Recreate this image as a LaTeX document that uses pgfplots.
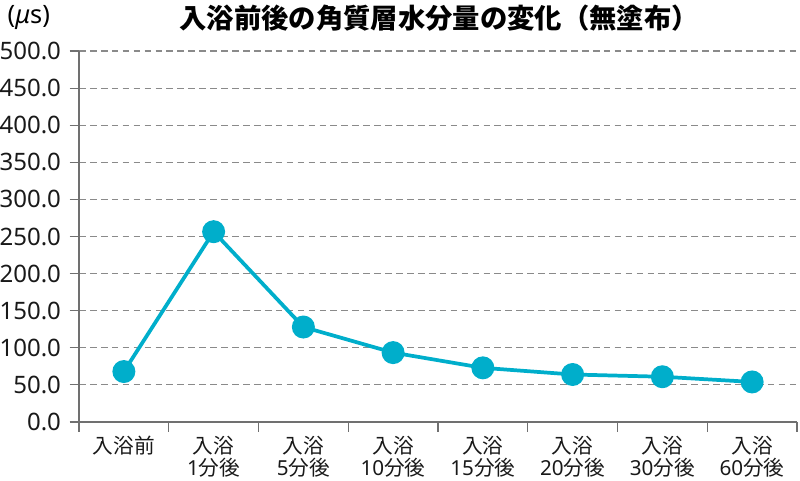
\documentclass[border=0pt]{standalone}
\usepackage{fontspec}
\setmainfont{Noto Sans CJK JP}
\newfontfamily\nf{Noto Sans}
\usepackage{pgfplots}
\pgfplotsset{compat=1.18}
\definecolor{lc}{HTML}{00AECB}
\definecolor{gc}{HTML}{8A8A8A}
\definecolor{ac}{HTML}{707070}
\begin{document}
\begin{tikzpicture}[x=1pt,y=1pt]
\begin{axis}[
  scale only axis,
  width=538.5pt, height=278.25pt,
  at={(0,0)}, anchor=south west,
  xmin=-0.5, xmax=7.5, ymin=0, ymax=500,
  axis lines=left,
  axis line style={-, ac, line width=0.8pt},
  ytick={0,50,...,500},
  yticklabel={\nf\pgfmathprintnumber[fixed,fixed zerofill,precision=1,assume math mode=true]{\tick}},
  tick label style={font=\fontsize{15.5pt}{16.5pt}\selectfont, text=black!90},
  y tick label style={font=\nf\fontsize{18pt}{19pt}\selectfont, xshift=-3pt},
  tick align=outside,
  major tick length=7pt,
  minor tick length=7.5pt,
  tick style={ac, line width=0.8pt},
  xtick={0,...,7},
  major x tick style={draw=none},
  minor xtick={-0.5,0.5,...,7.5},
  xticklabels={入浴前,入浴\\{\nf 1}分後,入浴\\{\nf 5}分後,入浴\\{\nf 10}分後,入浴\\{\nf 15}分後,入浴\\{\nf 20}分後,入浴\\{\nf 30}分後,入浴\\{\nf 60}分後},
  x tick label style={align=center, anchor=north, yshift=0pt},
  ymajorgrids,
  grid style={gc, dash pattern=on 5pt off 3.2pt, line width=0.8pt},
  clip=false,
]
\addplot[lc, line width=2.8pt, mark=*, mark size=7.2pt, mark options={fill=lc, draw=lc}]
 coordinates {(0,68) (1,256.5) (2,128) (3,93.5) (4,73) (5,64) (6,61) (7,54)};
\end{axis}
\node[font=\bfseries\fontsize{20.5pt}{22pt}\selectfont, anchor=center] at (270pt,303pt) {入浴前後の角質層水分量の変化（無塗布）};
\node[font=\nf\fontsize{19pt}{20pt}\selectfont, anchor=west] at (-57pt,303pt) {(\textit{μ}s)};
\pgfresetboundingbox
\path (-59.25pt,-44.25pt) rectangle (540.75pt,316.5pt);
\end{tikzpicture}
\end{document}
